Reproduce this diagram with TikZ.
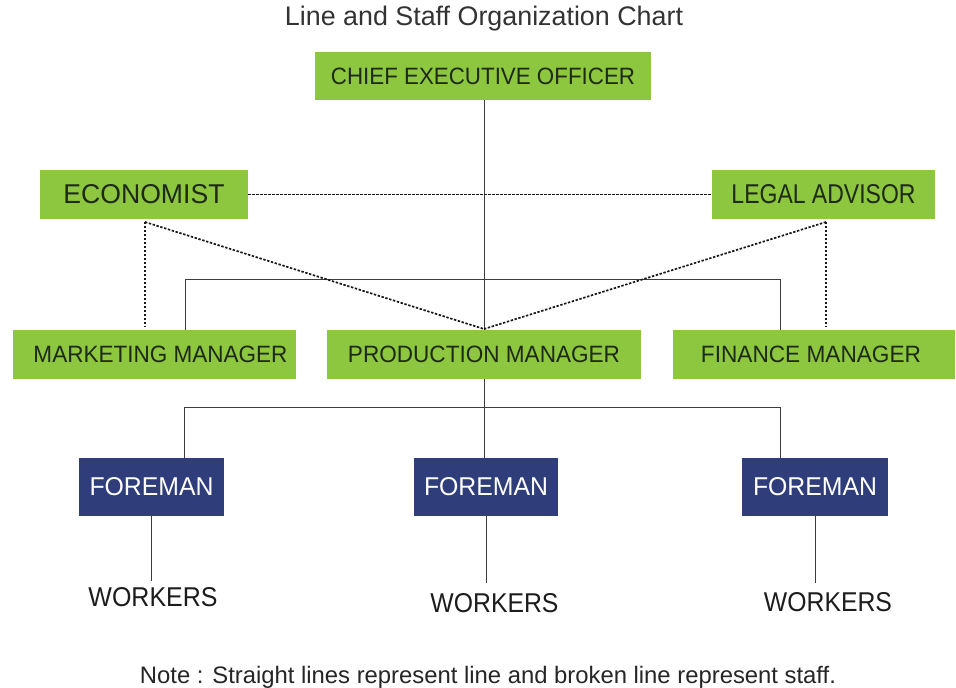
\documentclass[tikz,border=0pt]{standalone}
\usepackage{fontspec}
\setmainfont{Liberation Sans}
\usepackage{graphicx}
\definecolor{boxgreen}{RGB}{141,198,63}
\definecolor{boxblue}{RGB}{47,62,122}
\definecolor{gtext}{RGB}{30,42,20}
\definecolor{ltext}{RGB}{28,28,28}
\definecolor{linecol}{RGB}{60,60,60}
\newcommand{\fitt}[3]{\resizebox{#1pt}{#2pt}{#3}}
\tikzset{
  gbox/.style={fill=boxgreen, draw=none, inner sep=0pt, text=gtext, minimum height=49pt},
  bbox/.style={fill=boxblue, draw=none, inner sep=0pt, text=white, minimum height=58pt},
  plain/.style={inner sep=0pt, text=ltext},
  linerel/.style={draw=linecol, line width=0.9pt},
  staffrel/.style={draw=black!90, line width=1.7pt, dash pattern=on 2.4pt off 1.6pt}
}
\begin{document}
\begin{tikzpicture}[x=1pt,y=-1pt]
\useasboundingbox (0,0) rectangle (956,688);
\fill[white] (0,0) rectangle (956,688);
% title
\node[plain, text=black!80] (title) at (484,19) {\resizebox{398pt}{!}{Line and Staff Organization Chart}};
% boxes
\node[gbox, minimum width=336pt, minimum height=48pt] (ceo) at (483,76) {\fitt{304}{16.5}{CHIEF EXECUTIVE OFFICER}};
\node[gbox, minimum width=208pt] (econ) at (144,194.5) {\fitt{161}{19}{ECONOMIST}};
\node[gbox, minimum width=223pt] (legal) at (823.5,194.5) {\fitt{184}{19}{LEGAL ADVISOR}};
\node[gbox, minimum width=283pt] (mm) at (154.5,354.5) {\hspace*{12pt}\fitt{254}{16.5}{MARKETING MANAGER}};
\node[gbox, minimum width=314pt] (pm) at (484,354.5) {\fitt{272}{16.5}{PRODUCTION MANAGER}};
\node[gbox, minimum width=282pt] (fin) at (814,354.5) {\fitt{220}{16.5}{FINANCE MANAGER}\hspace*{6pt}};
\node[bbox, minimum width=145pt] (fm1) at (151.5,487) {\fitt{124}{18}{FOREMAN}};
\node[bbox, minimum width=144pt] (fm2) at (486,487) {\fitt{124}{18}{FOREMAN}};
\node[bbox, minimum width=146pt] (fm3) at (815,487) {\fitt{124}{18}{FOREMAN}};
\node[plain] (w1) at (153,597) {\fitt{129}{19}{WORKERS}};
\node[plain] (w2) at (494.5,603) {\fitt{128}{19}{WORKERS}};
\node[plain] (w3) at (828,602) {\fitt{128}{19}{WORKERS}};
\node[plain, text=black!85] (note) at (488,677) {\resizebox{696pt}{!}{Note : Straight lines represent line and broken line represent staff.}};
% helper coordinates
\coordinate (mbL) at (185,279);
\coordinate (mbR) at (780,279);
\coordinate (fbL) at (184,407);
\coordinate (fbR) at (780,407);
\coordinate (eb) at (145,222);
\coordinate (lb) at (826,222);
\coordinate (apex) at (484,329);
\coordinate (ceoX) at (484,100);
% line relations
\draw[linerel] (ceoX |- ceo.south) -- (ceoX |- pm.north);
\draw[linerel] (mbL |- mm.north) -- (mbL) -- (mbR) -- (mbR |- fin.north);
\draw[linerel] (ceoX |- pm.south) -- (ceoX |- fm2.north);
\draw[linerel] (fbL |- fm1.north) -- (fbL) -- (fbR) -- (fbR |- fm3.north);
\draw[linerel] (fm1.south) -- ([yshift=6pt]w1.north -| fm1.south);
\draw[linerel] (fm2.south) -- ([yshift=10pt]w2.north -| fm2.south);
\draw[linerel] (fm3.south) -- ([yshift=9pt]w3.north -| fm3.south);
% staff relations
\draw[staffrel] (econ.east) -- (legal.west);
\draw[staffrel] (eb) -- ([yshift=3pt]eb |- mm.north);
\draw[staffrel] (eb) -- (apex);
\draw[staffrel] (lb) -- (apex);
\draw[staffrel] (lb) -- ([yshift=3pt]lb |- fin.north);
\end{tikzpicture}
\end{document}
